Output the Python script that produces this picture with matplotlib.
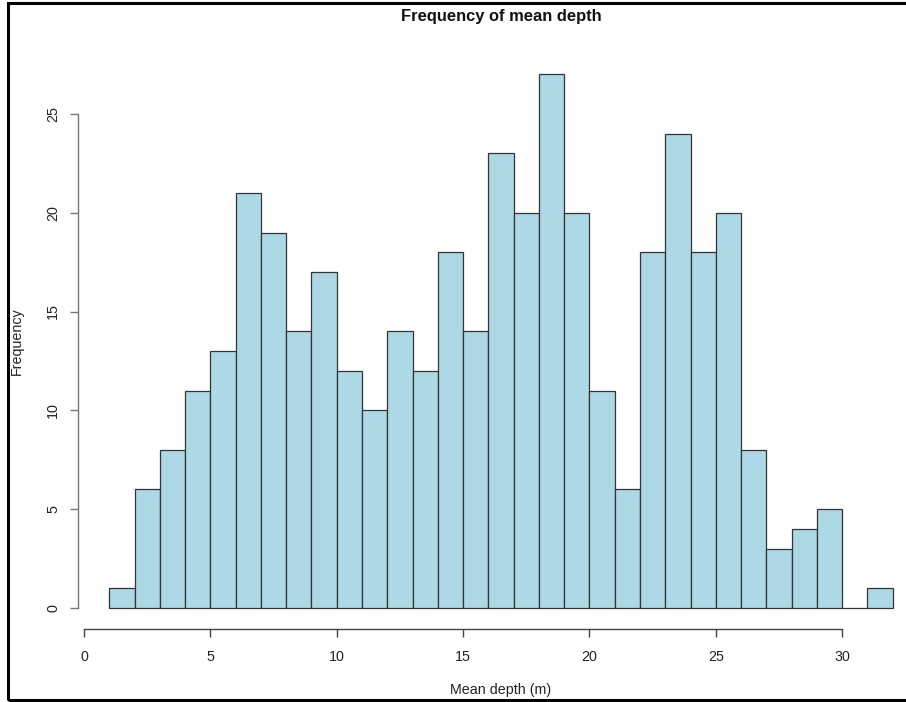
import numpy as np
import matplotlib
matplotlib.use("Agg")
from matplotlib import pyplot as plt
from matplotlib.patches import Rectangle

# histogram of mean depth, bins of 1 m from 1 to 32
bin_edges = list(range(1, 33))
counts = [1, 6, 8, 11, 13, 21, 19, 14, 17, 12, 10, 14, 12, 18, 14,
          23, 20, 27, 20, 11, 6, 18, 24, 18, 20, 8, 3, 4, 5, 0, 1]
x_ticks = [0, 5, 10, 15, 20, 25, 30]
y_ticks = [0, 5, 10, 15, 20, 25]

plt.rcParams['font.family'] = ['Liberation Sans', 'DejaVu Sans']

W, H = 906, 702
fig = plt.figure(figsize=(W / 100, H / 100), dpi=100)
fig.patch.set_facecolor('white')

# plot region in pixels (R style: 4% padding around data)
left_px, right_px, top_px, bot_px = 78, 924, 53.1, 629.3
ax = fig.add_axes([left_px / W, 1 - bot_px / H,
                   (right_px - left_px) / W, (bot_px - top_px) / H])

lefts = np.array(bin_edges[:-1])
widths = np.diff(bin_edges)
ax.bar(lefts, counts, width=widths, align='edge', color='#ADD8E6',
       edgecolor='#333333', linewidth=0.9)

ax.set_xlim(-0.24, 33.24)
ax.set_ylim(-1.08, 28.08)

for s in ['top', 'right']:
    ax.spines[s].set_visible(False)
ax.spines['bottom'].set_bounds(x_ticks[0], x_ticks[-1])
ax.spines['left'].set_bounds(y_ticks[0], y_ticks[-1])
ax.spines['bottom'].set_color('#444444')
ax.spines['left'].set_color('#777777')
ax.spines['bottom'].set_linewidth(1.0)
ax.spines['left'].set_linewidth(1.0)

ax.set_xticks(x_ticks)
ax.set_yticks(y_ticks)
ax.tick_params(axis='x', direction='out', length=5.8, width=1.0, color='#444444',
               pad=9, labelsize=10.3, labelcolor='#222222')
ax.tick_params(axis='y', direction='out', length=5.8, width=1.0, color='#777777',
               pad=7, labelsize=10.3, labelcolor='#222222', labelrotation=90)
for lab in ax.get_yticklabels():
    lab.set_verticalalignment('center')

fig.text(501 / W, 1 - 17 / H, 'Frequency of mean depth', ha='center', va='center',
         fontsize=11.9, fontweight='bold', color='#111111')
fig.text(501 / W, 1 - 690 / H, 'Mean depth (m)', ha='center', va='center',
         fontsize=10.3, color='#222222')
fig.text(17 / W, 1 - 341 / H, 'Frequency', ha='center', va='center',
         rotation=90, fontsize=10.3, color='#222222')

# black frame around the figure (right side runs off the image)
fig.patches.append(Rectangle((8 / W, 2 / H), 1.1, (H - 5) / H,
                             transform=fig.transFigure, fill=False,
                             edgecolor='black', linewidth=2.2))

fig.savefig('out.png', dpi=100)
